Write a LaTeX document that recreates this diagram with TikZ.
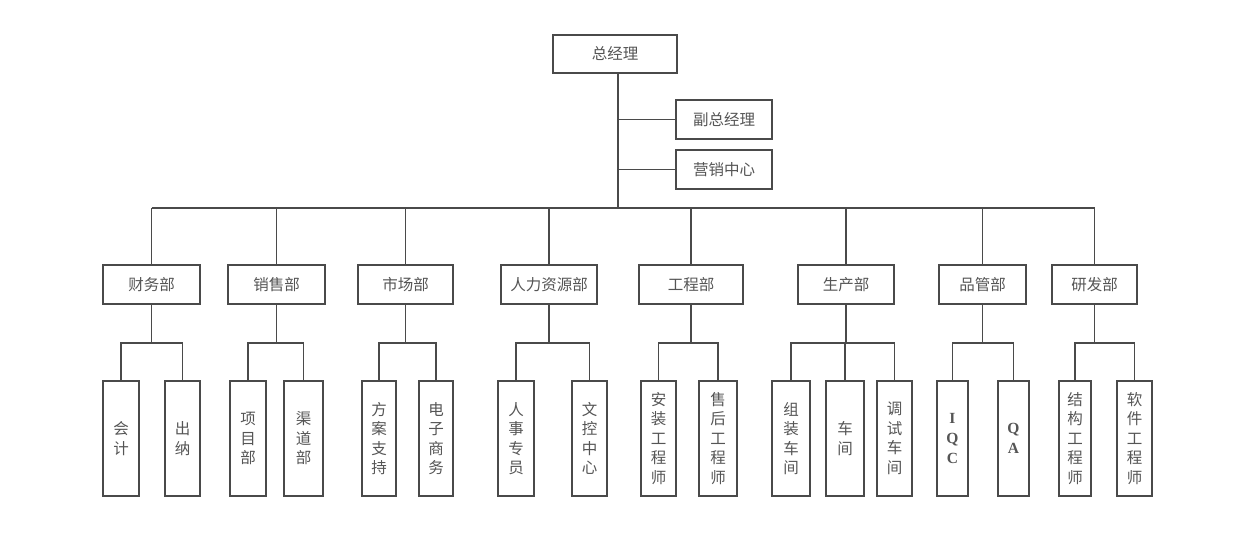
\documentclass[tikz,border=0pt]{standalone}
\usepackage{fontspec}
\setmainfont{Noto Sans CJK SC}
\newfontfamily\latinserif{Liberation Serif}
\definecolor{txt}{HTML}{555555}
\definecolor{ln}{HTML}{4A4A4A}
\begin{document}
\begin{tikzpicture}[x=1pt,y=-1pt,
  box/.style={draw=ln,line width=1.5pt,text=txt,inner sep=0pt,font=\fontsize{15.5}{19.5}\selectfont,align=center},
  hbox/.style={box,minimum height=39pt},
  leaf/.style={box,minimum height=115pt},
  conn/.style={draw=ln,line width=1.5pt}]
\useasboundingbox[fill=white] (0,0) rectangle (1244,536);
% top level
\node[hbox,minimum width=124pt,minimum height=38pt] (gm) at (615,54) {总经理};
\node[hbox,minimum width=96pt] (fz) at (724,119.5) {副总经理};
\node[hbox,minimum width=96pt] (yx) at (724,169.5) {营销中心};
\coordinate (bus) at (0,208);
\coordinate (cb) at (0,343);
% departments
\node[hbox,minimum width=97pt] (d1) at (151.5,284.5) {财务部};
\node[hbox,minimum width=97pt] (d2) at (276.5,284.5) {销售部};
\node[hbox,minimum width=95pt] (d3) at (405.5,284.5) {市场部};
\node[hbox,minimum width=96pt] (d4) at (549,284.5) {人力资源部};
\node[hbox,minimum width=104pt] (d5) at (691,284.5) {工程部};
\node[hbox,minimum width=96pt] (d6) at (846,284.5) {生产部};
\node[hbox,minimum width=87pt] (d7) at (982.5,284.5) {品管部};
\node[hbox,minimum width=85pt] (d8) at (1094.5,284.5) {研发部};
% leaves
\node[leaf,minimum width=36pt] (l11) at (121,438.5) {会\\计};
\node[leaf,minimum width=35pt] (l12) at (182.5,438.5) {出\\纳};
\node[leaf,minimum width=36pt] (l21) at (248,438.5) {项\\目\\部};
\node[leaf,minimum width=39pt] (l22) at (303.5,438.5) {渠\\道\\部};
\node[leaf,minimum width=34pt] (l31) at (379,438.5) {方\\案\\支\\持};
\node[leaf,minimum width=34pt] (l32) at (436,438.5) {电\\子\\商\\务};
\node[leaf,minimum width=36pt] (l41) at (516,438.5) {人\\事\\专\\员};
\node[leaf,minimum width=35pt] (l42) at (589.5,438.5) {文\\控\\中\\心};
\node[leaf,minimum width=35pt] (l51) at (658.5,438.5) {安\\装\\工\\程\\师};
\node[leaf,minimum width=38pt] (l52) at (718,438.5) {售\\后\\工\\程\\师};
\node[leaf,minimum width=38pt] (l61) at (791,438.5) {组\\装\\车\\间};
\node[leaf,minimum width=38pt] (l62) at (845,438.5) {车\\间};
\node[leaf,minimum width=35pt] (l63) at (894.5,438.5) {调\\试\\车\\间};
\node[leaf,minimum width=31pt,font=\latinserif\bfseries\fontsize{15.5}{20}\selectfont] (l71) at (952.5,438.5) {I\\Q\\C};
\node[leaf,minimum width=31pt,font=\latinserif\bfseries\fontsize{15.5}{20}\selectfont] (l72) at (1013.5,438.5) {Q\\A};
\node[leaf,minimum width=32pt] (l81) at (1075,438.5) {结\\构\\工\\程\\师};
\node[leaf,minimum width=35pt] (l82) at (1134.5,438.5) {软\\件\\工\\程\\师};
% connectors: top
\coordinate (tr) at ([xshift=3pt]gm.south);
\draw[conn] (tr) -- (tr |- bus);
\draw[conn] (fz.west) -- (fz.west -| tr);
\draw[conn] (yx.west) -- (yx.west -| tr);
\draw[conn] (d1.north |- bus) -- (d8.north |- bus);
\foreach \d in {d1,d2,d3,d4,d5,d6,d7,d8}{
  \draw[conn] (\d.north) -- (\d.north |- bus);
}
% connectors: departments to leaves
\foreach \d/\a/\b in {d1/l11/l12,d2/l21/l22,d3/l31/l32,d4/l41/l42,d5/l51/l52,d6/l61/l63,d7/l71/l72,d8/l81/l82}{
  \draw[conn] (\d.south) -- (\d.south |- cb);
  \draw[conn] (\a.north) |- (cb -| \b.north) -- (\b.north);
}
\draw[conn] (l62.north) -- (l62.north |- cb);
\end{tikzpicture}
\end{document}
